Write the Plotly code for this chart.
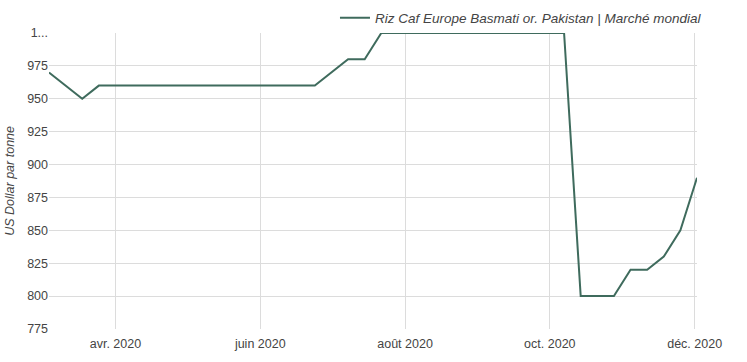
import plotly.graph_objects as go

dates = ["2020-03-04", "2020-03-18", "2020-03-25", "2020-06-24", "2020-07-08",
         "2020-07-15", "2020-07-22", "2020-10-07", "2020-10-14", "2020-10-28",
         "2020-11-04", "2020-11-11", "2020-11-18", "2020-11-25", "2020-12-02"]
prices = [970, 950, 960, 960, 980, 980, 1000, 1000, 800, 800, 820, 820, 830, 850, 890]

series_name = "Riz Caf Europe Basmati or. Pakistan | Marché mondial"
x_tick_vals = ["2020-04-01", "2020-06-01", "2020-08-01", "2020-10-01", "2020-12-01"]
x_tick_text = ["avr. 2020", "juin 2020", "août 2020", "oct. 2020", "déc. 2020"]
y_tick_vals = [775, 800, 825, 850, 875, 900, 925, 950, 975, 1000]
y_tick_text = ["775", "800", "825", "850", "875", "900", "925", "950", "975", "1..."]
y_title = "US Dollar par tonne"

FONT = "Liberation Sans, Arial, sans-serif"
GRID = "#dcdcdc"

fig = go.Figure()
fig.add_trace(go.Scatter(
    x=dates, y=prices, mode="lines", name=series_name,
    line=dict(color="#3f6b5d", width=2),
))

fig.update_layout(
    width=747, height=362,
    margin=dict(l=49, r=50, t=33, b=33, autoexpand=False),
    paper_bgcolor="white", plot_bgcolor="white",
    font=dict(family=FONT, size=12.5, color="#444444"),
    showlegend=True,
    legend=dict(orientation="h", x=1.0154, xanchor="right", y=1.0507, yanchor="middle",
                font=dict(family=FONT, size=13.5, color="#444444", style="italic"),
                bgcolor="rgba(0,0,0,0)"),
    xaxis=dict(
        range=["2020-03-04", "2020-12-02"],
        tickvals=x_tick_vals, ticktext=x_tick_text,
        showgrid=True, gridcolor=GRID, gridwidth=1,
        zeroline=False, showline=False, ticks="", automargin=False,
        ticklabelstandoff=5,
        tickfont=dict(family=FONT, size=12.5, color="#444444"),
    ),
    yaxis=dict(
        range=[775, 1000],
        tickvals=y_tick_vals, ticktext=y_tick_text,
        showgrid=True, gridcolor=GRID, gridwidth=1,
        zeroline=False, showline=False, ticks="", automargin=False,
        tickfont=dict(family=FONT, size=12.5, color="#444444"),
    ),
    annotations=[dict(
        text=y_title, xref="paper", yref="paper", x=-0.0605, y=0.5,
        xanchor="center", yanchor="middle", textangle=-90, showarrow=False,
        font=dict(family=FONT, size=12.5, color="#444444", style="italic"),
    )],
)

fig.write_html("out.html", config={"displayModeBar": False},
               post_script="document.body.style.margin='0';")
